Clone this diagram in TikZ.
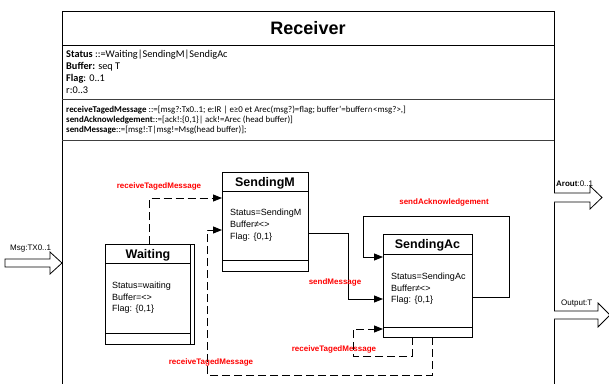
\documentclass[tikz,border=0pt]{standalone}
\usepackage{fontspec}
\setmainfont{Liberation Sans}
\newfontfamily\calib{Carlito}
\newfontfamily\dvs{DejaVu Sans}
\usetikzlibrary{arrows.meta,calc}
\tikzset{
  statebox/.style={draw, line width=0.9pt, inner sep=0pt, outer sep=0pt},
  stitle/.style={font=\fontsize{12.5}{14}\selectfont\bfseries, inner sep=0pt, anchor=base},
  stext/.style={font=\fontsize{9}{11}\selectfont, inner sep=0pt, anchor=base west},
  trlabel/.style={font=\fontsize{8}{9}\selectfont\bfseries, text=red, inner sep=0pt, anchor=base},
  dasharrow/.style={line width=0.9pt, dash pattern=on 8pt off 4pt, -{Triangle[length=9pt,width=7pt]}},
  solarrow/.style={line width=0.9pt, -{Triangle[length=9pt,width=7pt]}},
  attr/.style={font=\calib\fontsize{10.3}{12}\selectfont, inner sep=0pt, anchor=base west},
  oper/.style={font=\calib\fontsize{8.9}{10}\selectfont, inner sep=0pt, anchor=base west},
  blockarrow/.style={draw, line width=0.8pt, fill=white},
  portlabel/.style={font=\fontsize{8}{9}\selectfont, inner sep=0pt, anchor=base west},
  frame/.style={line width=0.9pt},
}
\begin{document}
\begin{tikzpicture}[x=1pt,y=-1pt]
\useasboundingbox (0,0) rectangle (609,383);

% outer class box
\coordinate (tl) at (62,11);
\coordinate (tr) at (554,11);
\coordinate (bl) at (62,384);
\coordinate (br) at (554,384);
\draw[frame] (bl) -- (tl) -- (tr) -- (br);
\draw[frame] (62,45) -- (554,45);
\draw[frame, black!75] (62,99) -- (554,99);
\draw[frame, black!75] (62,140) -- (554,140);
\node[font=\fontsize{18}{20}\selectfont\bfseries, inner sep=0pt, anchor=base] (rtitle) at (308,34.5) {Receiver};

% attributes
\node[attr] (a1) at (66,57.3) {\textbf{Status} ::=Waiting|SendingM|SendigAc};
\node[attr] (a2) at (66,69.3) {\textbf{Buffer:} seq T};
\node[attr] (a3) at (66,81.5) {\textbf{Flag}: 0..1};
\node[attr] (a4) at (66,93.3) {r:0..3};
% operations
\node[oper] (o1) at (66,112.5) {\textbf{receiveTagedMessage} ::=[msg?:Tx0..1; e:IR | e≥0 et Arec(msg?)=flag; buffer’=buffer{\dvs\fontsize{7.5}{9}\selectfont ∩}<msg?>,]};
\node[oper] (o2) at (66,122.5) {\textbf{sendAcknowledgement}::=[ack!:\{0,1\}| ack!=Arec (head buffer)]};
\node[oper] (o3) at (66,132.5) {\textbf{sendMessage}::=[msg!:T|msg!=Msg(head buffer)];};

% states
\node[statebox, minimum width=89pt, minimum height=100pt] (waiting) at (149.5,294) {};
\draw[line width=0.9pt] ($(waiting.north east)+(-4,0)$) -- ($(waiting.south east)+(-4,0)$);
\draw[line width=0.9pt] ($(waiting.north west)+(0,19)$) -- ($(waiting.north east)+(-4,19)$);
\draw[line width=0.9pt] ($(waiting.south west)+(0,-11)$) -- ($(waiting.south east)+(-4,-11)$);
\node[stitle] (waitingT) at (148,258) {Waiting};
\node[stext] (w1) at (112,288.5) {Status=waiting};
\node[stext] (w2) at (112,300) {Buffer=<>};
\node[stext] (w3) at (112,311.5) {Flag: \{0,1\}};

\node[statebox, minimum width=86pt, minimum height=99pt] (sendingM) at (265,221.5) {};
\draw[line width=0.9pt] ($(sendingM.north west)+(0,19)$) -- ($(sendingM.north east)+(0,19)$);
\draw[line width=0.9pt] ($(sendingM.south west)+(0,-11)$) -- ($(sendingM.south east)+(0,-11)$);
\node[stitle] (sendingMT) at (265,186) {SendingM};
\node[stext] (m1) at (230,215.5) {Status=SendingM};
\node[stext] (m2) at (230,227.5) {Buffer≠<>};
\node[stext] (m3) at (230,239.5) {Flag: \{0,1\}};

\node[statebox, minimum width=89pt, minimum height=103pt] (sendingAc) at (427.5,285.5) {};
\draw[line width=0.9pt] ($(sendingAc.north west)+(0,20)$) -- ($(sendingAc.north east)+(0,20)$);
\draw[line width=0.9pt] ($(sendingAc.south west)+(0,-10)$) -- ($(sendingAc.south east)+(0,-10)$);
\node[stitle] (sendingAcT) at (427.5,248.5) {SendingAc};
\node[stext] (c1) at (391,279.5) {Status=SendingAc};
\node[stext] (c2) at (391,291) {Buffer≠<>};
\node[stext] (c3) at (391,302.5) {Flag: \{0,1\}};

% transitions
\draw[dasharrow] (waiting.north) |- ($(sendingM.north west)+(0,26)$);
\node[trlabel] (l1) at (159,188) {receiveTagedMessage};

\draw[dasharrow] ($(sendingAc.south west)+(49,0)$) -- ++(0,38) -- ++(-225,0) |- ($(sendingM.north west)+(0,58)$);
\node[trlabel] (l2) at (211,364) {receiveTagedMessage};

\draw[dasharrow] ($(sendingAc.south west)+(29,0)$) -- ++(0,19) -- ++(-59,0) |- ($(sendingAc.north west)+(0,95)$);
\node[trlabel] (l3) at (334,351) {receiveTagedMessage};

\draw[solarrow] ($(sendingM.north east)+(0,61)$) -- ++(40,0) |- ($(sendingAc.north west)+(0,65)$);
\node[trlabel] (l4) at (335,284) {sendMessage};

\draw[solarrow] ($(sendingAc.north east)+(0,63)$) -- ++(37,0) -- ++(0,-81) -- ++(-146,0) |- ($(sendingAc.north west)+(0,23)$);
\node[trlabel] (l5) at (444,204) {sendAcknowledgement};

% ports
\draw[blockarrow] (5,259) -- (50,259) -- (50,252) -- (62,263) -- (50,274) -- (50,267) -- (5,267) -- cycle;
\node[portlabel] (pmsg) at (10,250) {Msg:TX0..1};
\draw[blockarrow] (554,193) -- (590,193) -- (590,186) -- (602,197.5) -- (590,209) -- (590,202) -- (554,202);
\node[portlabel] (parout) at (556,186) {\textbf{Arout}:0..1};
\draw[blockarrow] (554,311) -- (598,311) -- (598,303) -- (610,315) -- (598,327) -- (598,319) -- (554,319);
\node[portlabel] (poutput) at (561,305) {Output:T};
\end{tikzpicture}
\end{document}
